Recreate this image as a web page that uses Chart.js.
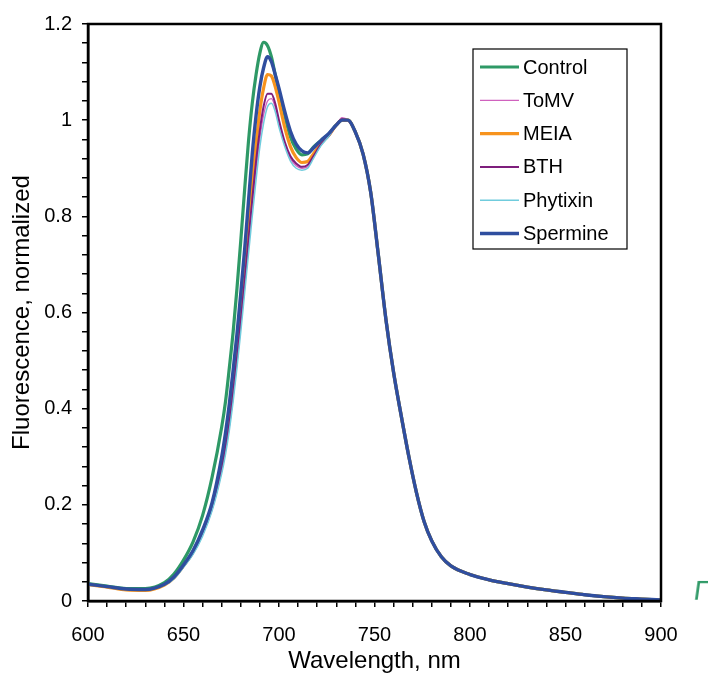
<!DOCTYPE html>
<html>
<head>
<meta charset="utf-8">
<script src="https://cdn.jsdelivr.net/npm/chart.js@4/dist/chart.umd.min.js"></script>
<style>
  html, body { margin: 0; padding: 0; background: #fff; }
  #wrap { position: relative; width: 708px; height: 673px; overflow: hidden; }
  canvas { position: absolute; left: 0; top: 0; }
  #stray { position: absolute; left: 694px; top: 575px; color: #2E9966; font: 28px "Liberation Sans", Arial, sans-serif; transform: skewX(-8deg); }
</style>
</head>
<body>
<div id="wrap">
  <canvas id="c" width="708" height="673"></canvas>
  <span id="stray">Γ</span>
</div>
<script>
// ---- data ----
const wavelengths = [600,610,620,630,640,645,650,655,660,665,
  670,672,674,676,678,680,682,684,686,688,
  690,692,694,696,698,700,703,706,709,712,
  715,718,722,726,730,733,736,740,744,748,
  752,756,760,764,768,772,776,780,785,790,
  800,810,820,830,840,850,860,870,880,890,900];

const controlValues = [0.036,0.031,0.026,0.026,0.038,0.056,0.085,0.123,0.178,0.258,
  0.362,0.415,0.485,0.56,0.65,0.75,0.855,0.955,1.035,1.095,
  1.14,1.162,1.155,1.132,1.095,1.06,1.01,0.965,0.94,0.928,
  0.93,0.944,0.958,0.971,0.99,1.0,1.0,0.975,0.93,0.85,
  0.72,0.585,0.475,0.385,0.30,0.225,0.165,0.125,0.092,0.073,
  0.055,0.044,0.036,0.029,0.023,0.018,0.013,0.009,0.006,0.004,0.002];

const tomvValues = [0.035,0.030,0.025,0.024,0.034,0.047,0.071,0.099,0.138,0.19,
  0.27,0.312,0.362,0.425,0.495,0.572,0.652,0.735,0.818,0.895,
  0.962,1.012,1.04,1.045,1.027,0.993,0.95,0.92,0.905,0.9,
  0.903,0.922,0.948,0.967,0.99,1.005,1.0,0.975,0.93,0.85,
  0.72,0.585,0.475,0.385,0.30,0.225,0.165,0.125,0.092,0.073,
  0.055,0.044,0.036,0.029,0.023,0.018,0.013,0.009,0.006,0.004,0.002];

const meiaValues = [0.034,0.029,0.023,0.022,0.033,0.048,0.073,0.102,0.145,0.20,
  0.285,0.33,0.385,0.45,0.525,0.605,0.69,0.78,0.865,0.95,
  1.02,1.068,1.095,1.092,1.07,1.038,0.985,0.945,0.922,0.912,
  0.914,0.93,0.952,0.968,0.99,1.0,1.0,0.975,0.93,0.85,
  0.72,0.585,0.475,0.385,0.30,0.225,0.165,0.125,0.092,0.073,
  0.055,0.044,0.036,0.029,0.023,0.018,0.013,0.009,0.006,0.004,0.002];

const bthValues = [0.035,0.030,0.025,0.024,0.034,0.048,0.072,0.10,0.14,0.195,
  0.275,0.32,0.37,0.435,0.505,0.585,0.665,0.75,0.835,0.915,
  0.98,1.03,1.055,1.055,1.035,1.0,0.955,0.925,0.91,0.903,
  0.907,0.925,0.95,0.967,0.99,1.002,1.0,0.975,0.93,0.85,
  0.72,0.585,0.475,0.385,0.30,0.225,0.165,0.125,0.092,0.073,
  0.055,0.044,0.036,0.029,0.023,0.018,0.013,0.009,0.006,0.004,0.002];

const phytixinValues = [0.035,0.030,0.025,0.024,0.033,0.046,0.07,0.097,0.135,0.188,
  0.265,0.305,0.355,0.415,0.485,0.56,0.64,0.72,0.80,0.876,
  0.945,0.995,1.028,1.035,1.018,0.985,0.945,0.915,0.90,0.896,
  0.90,0.92,0.947,0.966,0.99,1.0,1.0,0.975,0.93,0.85,
  0.72,0.585,0.475,0.385,0.30,0.225,0.165,0.125,0.092,0.073,
  0.055,0.044,0.036,0.029,0.023,0.018,0.013,0.009,0.006,0.004,0.002];

const spermineValues = [0.035,0.030,0.025,0.024,0.035,0.05,0.075,0.105,0.148,0.205,
  0.30,0.35,0.41,0.48,0.555,0.64,0.73,0.83,0.93,1.01,
  1.07,1.11,1.132,1.122,1.095,1.066,1.018,0.977,0.95,0.936,
  0.932,0.942,0.958,0.972,0.99,1.0,1.0,0.975,0.93,0.85,
  0.72,0.585,0.475,0.385,0.30,0.225,0.165,0.125,0.092,0.073,
  0.055,0.044,0.036,0.029,0.023,0.018,0.013,0.009,0.006,0.004,0.002];

const seriesNames = ['Control','ToMV','MEIA','BTH','Phytixin','Spermine'];
const xTickLabels = ['600','650','700','750','800','850','900'];
const yTickLabels = ['0','0.2','0.4','0.6','0.8','1','1.2'];

// ---- styles ----
const FONT = '"Liberation Sans", Arial, Helvetica, sans-serif';
const styles = [
  { color: '#2E9966', width: 3.2, order: 5 },
  { color: '#D062BE', width: 1.3, order: 4 },
  { color: '#F7931E', width: 3.2, order: 3 },
  { color: '#7E1E7C', width: 2.0, order: 2 },
  { color: '#70CCDD', width: 1.5, order: 1 },
  { color: '#2F4E9F', width: 3.4, order: 0 }
];
const valueSets = [controlValues, tomvValues, meiaValues, bthValues, phytixinValues, spermineValues];

const datasets = seriesNames.map((name, i) => ({
  label: name,
  data: wavelengths.map((w, j) => ({ x: w, y: valueSets[i][j] })),
  borderColor: styles[i].color,
  backgroundColor: styles[i].color,
  borderWidth: styles[i].width,
  pointRadius: 0,
  fill: false,
  cubicInterpolationMode: 'monotone',
  order: styles[i].order
}));

const framePlugin = {
  id: 'frame',
  afterDraw(chart) {
    const { ctx, chartArea: a } = chart;
    ctx.save();
    ctx.strokeStyle = '#000';
    ctx.lineWidth = 2.5;
    ctx.strokeRect(a.left, a.top, a.right - a.left, a.bottom - a.top);
    ctx.restore();
  }
};

const boxLegendPlugin = {
  id: 'boxLegend',
  afterDraw(chart) {
    const { ctx, chartArea: a } = chart;
    const left = a.right - 188, top = a.top + 25, w = 154, h = 200;
    ctx.save();
    ctx.fillStyle = '#fff';
    ctx.fillRect(left, top, w, h);
    ctx.strokeStyle = '#000';
    ctx.lineWidth = 1.2;
    ctx.strokeRect(left, top, w, h);
    ctx.font = '20px ' + FONT;
    ctx.textBaseline = 'middle';
    ctx.textAlign = 'left';
    chart.data.datasets.forEach((ds, i) => {
      const y = top + 18 + i * 33.3;
      ctx.strokeStyle = ds.borderColor;
      ctx.lineWidth = Math.max(ds.borderWidth, 1.3);
      ctx.beginPath();
      ctx.moveTo(left + 7, y);
      ctx.lineTo(left + 46, y);
      ctx.stroke();
      ctx.fillStyle = '#000';
      ctx.fillText(ds.label, left + 50, y + 1);
    });
    ctx.restore();
  }
};

function isMajor(v, step) { return Math.abs(v / step - Math.round(v / step)) < 1e-6; }

new Chart(document.getElementById('c'), {
  type: 'line',
  data: { datasets },
  options: {
    responsive: false,
    animation: false,
    events: [],
    layout: { padding: { left: 0, right: 47, top: 24, bottom: 0 } },
    plugins: { legend: { display: false }, tooltip: { enabled: false } },
    scales: {
      x: {
        type: 'linear', min: 600, max: 900,
        ticks: {
          stepSize: 10, autoSkip: false, maxRotation: 0, color: '#000', padding: 16,
          font: { family: FONT, size: 20 },
          callback: v => isMajor(v - 600, 50) ? xTickLabels[Math.round((v - 600) / 50)] : ''
        },
        grid: { drawOnChartArea: false, tickLength: 6, color: '#000', tickColor: '#000', lineWidth: 1.5 },
        border: { color: '#000', width: 2.5 },
        title: { display: true, text: 'Wavelength, nm', color: '#000', font: { family: FONT, size: 24, lineHeight: 1.0 }, padding: { top: 0, bottom: 0 } },
        afterFit: s => { s.height = 72; }
      },
      y: {
        min: 0, max: 1.2,
        ticks: {
          stepSize: 0.04, autoSkip: false, color: '#000', padding: 10,
          font: { family: FONT, size: 20 },
          callback: v => isMajor(v, 0.2) ? yTickLabels[Math.round(v / 0.2)] : ''
        },
        grid: { drawOnChartArea: false, tickLength: 6, color: '#000', tickColor: '#000', lineWidth: 1.5 },
        border: { color: '#000', width: 2.5 },
        title: { display: true, text: 'Fluorescence, normalized', color: '#000', font: { family: FONT, size: 24, lineHeight: 1.0 }, padding: { top: 10, bottom: 0 } },
        afterFit: s => { s.width = 88; }
      }
    }
  },
  plugins: [framePlugin, boxLegendPlugin]
});
</script>
</body>
</html>
